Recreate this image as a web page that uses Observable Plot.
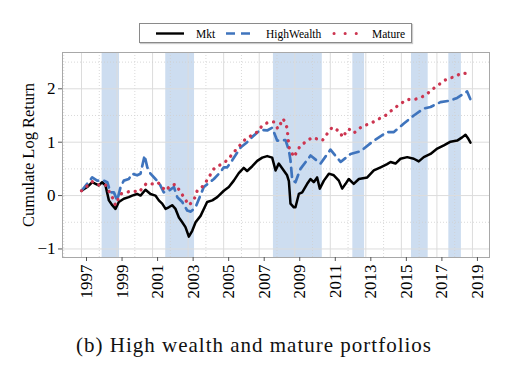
<!DOCTYPE html>
<html><head><meta charset="utf-8">
<script src="https://cdn.jsdelivr.net/npm/d3@7"></script>
<script src="https://cdn.jsdelivr.net/npm/@observablehq/plot@0.6"></script>
<style>
body{margin:0;background:#fff;}
#wrap{position:relative;width:508px;height:380px;font-family:"Liberation Serif",serif;overflow:hidden;}
#legend{position:absolute;left:139px;top:23px;width:271px;height:18px;border:1px solid #8a8a8a;box-shadow:1px 1px 1px #ccc;background:#fff;}
#legend svg{display:block;}
#chart{position:absolute;left:0;top:48px;}
#chart svg, #chart svg text, #legend svg text{font-family:"Liberation Serif",serif !important;}
#caption{position:absolute;left:0;width:508px;top:335px;text-align:center;font-size:21px;line-height:21px;letter-spacing:1px;color:#111;}
</style></head><body>
<div id="wrap"><div id="legend"></div><div id="chart"></div><div id="caption"></div></div>
<script>
const seriesNames = ["Mkt", "HighWealth", "Mature"];

const mktYear = [1997.00,1997.32,1997.60,1997.79,1997.97,1998.16,1998.35,1998.54,1998.73,1998.91,1999.10,1999.38,1999.66,1999.85,2000.13,2000.32,2000.60,2000.88,2001.16,2001.35,2001.54,2001.73,2001.91,2002.10,2002.29,2002.48,2002.67,2002.85,2003.04,2003.23,2003.42,2003.70,2004.07,2004.36,2004.64,2005.01,2005.29,2005.57,2005.85,2006.13,2006.32,2006.61,2006.89,2007.17,2007.45,2007.73,2007.92,2008.10,2008.38,2008.57,2008.67,2008.76,2008.95,2009.04,2009.23,2009.42,2009.70,2009.89,2010.07,2010.26,2010.41,2010.64,2010.92,2011.20,2011.48,2011.67,2011.86,2012.04,2012.32,2012.61,2013.08,2013.45,2013.83,2014.20,2014.39,2014.67,2014.95,2015.33,2015.70,2015.98,2016.26,2016.64,2017.02,2017.39,2017.77,2018.14,2018.42,2018.61,2018.74,2018.89];
const mktValue = [0.09,0.16,0.25,0.22,0.19,0.25,0.19,-0.09,-0.18,-0.25,-0.12,-0.06,-0.03,0.00,0.03,0.00,0.11,0.03,0.00,-0.09,-0.15,-0.25,-0.22,-0.18,-0.25,-0.41,-0.50,-0.59,-0.77,-0.66,-0.50,-0.38,-0.12,-0.09,-0.03,0.09,0.16,0.28,0.42,0.52,0.46,0.55,0.65,0.71,0.74,0.71,0.47,0.60,0.47,0.38,0.27,-0.15,-0.22,-0.22,0.03,0.06,0.22,0.31,0.25,0.34,0.13,0.28,0.41,0.38,0.28,0.13,0.22,0.31,0.22,0.31,0.34,0.47,0.53,0.59,0.63,0.60,0.69,0.72,0.69,0.64,0.72,0.78,0.88,0.94,1.01,1.03,1.09,1.14,1.08,0.99];

const hwYear = [1997.00,1997.60,1997.88,1998.25,1998.45,1998.63,1998.82,1999.01,1999.20,1999.38,1999.66,1999.85,2000.13,2000.32,2000.55,2000.70,2000.88,2001.16,2001.35,2001.63,2001.91,2002.20,2002.39,2002.67,2002.95,2003.15,2003.42,2003.88,2004.45,2004.82,2005.01,2005.20,2005.48,2005.95,2006.32,2006.61,2007.07,2007.45,2007.73,2008.01,2008.48,2008.67,2008.76,2008.86,2009.04,2009.32,2009.89,2010.45,2011.01,2011.58,2012.14,2012.70,2013.45,2014.20,2014.58,2015.14,2015.70,2016.26,2016.64,2017.20,2017.77,2018.14,2018.70,2018.89];
const hwValue = [0.09,0.34,0.28,0.28,0.25,0.06,0.06,-0.09,0.16,0.28,0.31,0.41,0.38,0.41,0.75,0.53,0.41,0.31,0.25,0.06,0.09,0.16,-0.03,-0.12,-0.28,-0.30,-0.22,0.16,0.31,0.44,0.53,0.53,0.66,0.90,1.00,1.10,1.23,1.22,1.27,1.03,1.04,0.85,0.66,0.29,0.25,0.50,0.75,0.60,0.86,0.63,0.78,0.83,1.03,1.19,1.19,1.35,1.50,1.63,1.66,1.75,1.78,1.83,1.95,1.80];

const matYear = [1997.00,1997.60,1997.97,1998.35,1998.73,1998.91,1999.20,1999.48,1999.91,2000.22,2000.66,2000.98,2001.29,2001.73,2002.01,2002.29,2002.76,2003.04,2003.32,2003.51,2003.88,2004.45,2005.20,2005.67,2006.23,2006.89,2007.17,2007.54,2007.82,2008.05,2008.35,2008.57,2008.67,2008.95,2009.32,2009.60,2009.98,2010.26,2010.55,2010.83,2011.11,2011.58,2011.67,2012.04,2012.32,2012.80,2013.26,2013.64,2014.11,2014.58,2014.95,2015.33,2015.70,2015.98,2016.36,2016.74,2017.20,2017.58,2017.95,2018.42,2018.85];
const matValue = [0.09,0.26,0.20,0.20,-0.03,-0.18,0.03,0.06,0.09,0.06,0.23,0.22,0.25,0.09,0.19,0.21,-0.03,-0.18,-0.09,0.09,0.19,0.50,0.66,0.85,1.06,1.19,1.31,1.38,1.38,1.25,1.44,1.27,0.91,0.72,0.94,1.00,1.09,1.06,1.03,1.16,1.28,1.19,1.09,1.25,1.17,1.30,1.35,1.42,1.50,1.63,1.72,1.80,1.80,1.82,1.88,1.99,2.10,2.19,2.22,2.30,2.27];

const bandStart = [1998.16, 2001.74, 2007.80, 2012.27, 2015.57, 2017.67];
const bandEnd   = [1999.14, 2003.36, 2010.55, 2012.93, 2016.51, 2018.38];

const xTickYears = [1997,1999,2001,2003,2005,2007,2009,2011,2013,2015,2017,2019];
const xMinorYears = [1996,1998,2000,2002,2004,2006,2008,2010,2012,2014,2016,2018];
const yTicks = [-1, 0, 1, 2];
const yMinorTicks = [-0.5, 0.5, 1.5, 2.5];
const yLabel = "Cumulate Log Return";
const captionText = "(b) High wealth and mature portfolios";

const colors = {Mkt: "#000000", HighWealth: "#3f74bd", Mature: "#cc3550"};

const rows = (years, values) => years.map((t, i) => ({t, v: values[i]}));
const mkt = rows(mktYear, mktValue);
const hw = rows(hwYear, hwValue);
const mat = rows(matYear, matValue);
const bands = bandStart.map((s, i) => ({s, e: bandEnd[i]}));

const chart = Plot.plot({
  width: 508, height: 260,
  marginTop: 4, marginBottom: 51, marginLeft: 62, marginRight: 19,
  style: {fontFamily: "Liberation Serif", fontSize: "17px", color: "#000", background: "#fff"},
  x: {domain: [1995.93, 2019.96]},
  y: {domain: [-1.16, 2.68]},
  marks: [
    Plot.rect(bands, {x1: "s", x2: "e", fill: "#c8d9ee", fillOpacity: 0.9}),
    Plot.gridX(xMinorYears, {stroke: "#cfcfcf", strokeOpacity: 0.8, strokeDasharray: "1,2"}),
    Plot.gridX(xTickYears, {stroke: "#dcdcdc", strokeOpacity: 1}),
    Plot.gridY(yMinorTicks, {stroke: "#cfcfcf", strokeOpacity: 0.8, strokeDasharray: "1,2"}),
    Plot.gridY(yTicks, {stroke: "#dcdcdc", strokeOpacity: 1}),
    Plot.line(mkt, {x: "t", y: "v", stroke: colors.Mkt, strokeWidth: 2.5, strokeLinejoin: "round"}),
    Plot.line(hw, {x: "t", y: "v", stroke: colors.HighWealth, strokeWidth: 2.7, strokeDasharray: "9,6"}),
    Plot.line(mat, {x: "t", y: "v", stroke: colors.Mature, strokeWidth: 3.3, strokeDasharray: "0.1,7", strokeLinecap: "round"}),
    Plot.frame({stroke: "#a8a8a8"}),
    Plot.axisX(xTickYears, {tickRotate: -90, tickFormat: d => String(d), tickSize: 4, tickPadding: 3, dx: 5, fontSize: 17, label: null, stroke: "#555"}),
    Plot.axisY(yTicks, {tickSize: 4, tickPadding: 3, fontSize: 17, tickFormat: d => (d < 0 ? "\u2212" + Math.abs(d) : String(d)), label: null, stroke: "#555"}),
    Plot.text([yLabel], {frameAnchor: "left", textAnchor: "middle", lineAnchor: "middle", rotate: -90, dx: -34, fontSize: 16.5, text: d => d})
  ]
});
document.getElementById("chart").appendChild(chart);

// legend
const NS = "http://www.w3.org/2000/svg";
const lg = document.createElementNS(NS, "svg");
lg.setAttribute("width", 271); lg.setAttribute("height", 18);
const items = [
  {name: seriesNames[0], x1: 16, x2: 44, tx: 56, stroke: colors.Mkt, w: 2.4, dash: null, cap: "butt"},
  {name: seriesNames[1], x1: 86, x2: 112, tx: 126, stroke: colors.HighWealth, w: 2.6, dash: "9,6", cap: "butt"},
  {name: seriesNames[2], x1: 194, x2: 218, tx: 232, stroke: colors.Mature, w: 3, dash: "0.1,11", cap: "round"}
];
for (const it of items) {
  const l = document.createElementNS(NS, "line");
  l.setAttribute("x1", it.x1); l.setAttribute("x2", it.x2);
  l.setAttribute("y1", 9.5); l.setAttribute("y2", 9.5);
  l.setAttribute("stroke", it.stroke); l.setAttribute("stroke-width", it.w);
  l.setAttribute("stroke-linecap", it.cap);
  if (it.dash) l.setAttribute("stroke-dasharray", it.dash);
  lg.appendChild(l);
  const t = document.createElementNS(NS, "text");
  t.setAttribute("x", it.tx); t.setAttribute("y", 13.5);
  t.setAttribute("font-family", "Liberation Serif");
  t.setAttribute("font-size", "11.5");
  t.textContent = it.name;
  lg.appendChild(t);
}
document.getElementById("legend").appendChild(lg);
document.getElementById("caption").textContent = captionText;
</script>
</body></html>
